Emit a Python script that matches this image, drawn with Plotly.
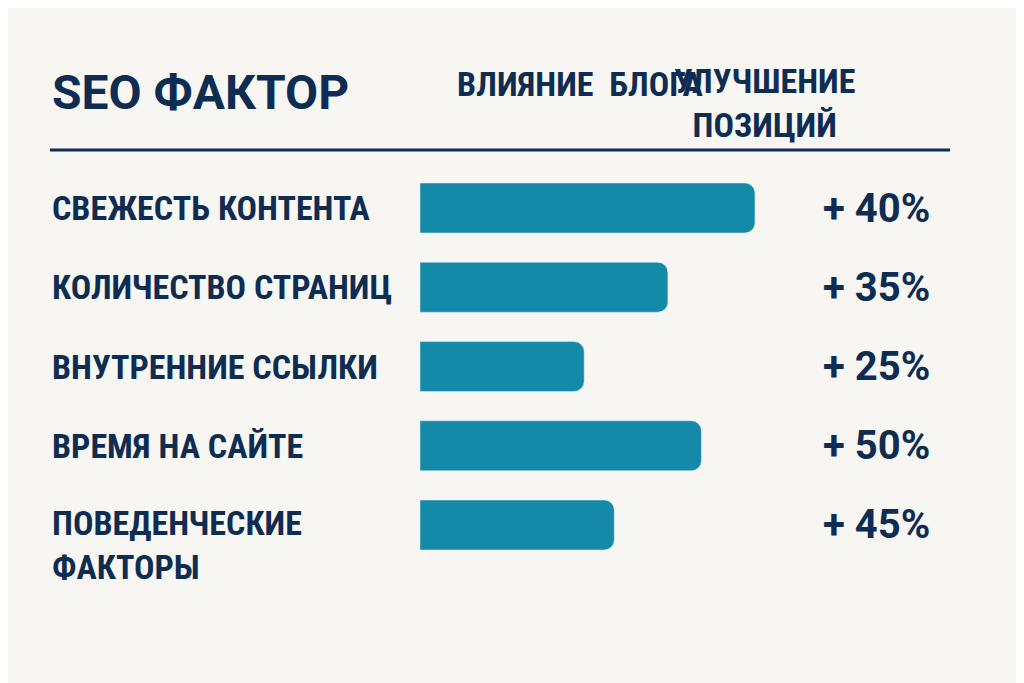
import plotly.graph_objects as go

factors = ["СВЕЖЕСТЬ КОНТЕНТА", "КОЛИЧЕСТВО СТРАНИЦ", "ВНУТРЕННИЕ ССЫЛКИ", "ВРЕМЯ НА САЙТЕ", "ПОВЕДЕНЧЕСКИЕ<br>ФАКТОРЫ"]
influence = [100, 74, 49, 84, 58]
improvement = ["+ 40%", "+ 35%", "+ 25%", "+ 50%", "+ 45%"]

navy = "#0f2d52"
bar = "#1589a8"
bg = "#f7f6f2"
font_l = "Liberation Sans Narrow, Roboto Condensed, Roboto, sans-serif"

W, H, OFF = 1024, 683, 8
px = lambda x: (x - OFF) / W
py = lambda y: 1 - (y - OFF) / H

idx = list(range(len(factors)))
fig = go.Figure(go.Bar(
    x=influence, y=idx, orientation="h", width=0.63,
    marker=dict(color=bar, cornerradius=10), hoverinfo="skip"))

anns = []
for i, f in enumerate(factors):
    yy = i + (0.25 if "<br>" in f else 0)
    anns.append(dict(x=px(50), xref="paper", y=yy, yref="y", text=f"<b>{f}</b>",
                     showarrow=False, xanchor="left", yanchor="middle", align="left",
                     font=dict(family=font_l, size=34, color=navy)))
    anns.append(dict(x=px(932), xref="paper", y=i, yref="y", text=f"<b>{improvement[i]}</b>",
                     showarrow=False, xanchor="right", yanchor="middle",
                     font=dict(family="Roboto, sans-serif", size=40, color=navy)))
anns += [
    dict(x=px(50), y=py(92), xref="paper", yref="paper", text="<b>SEO ФАКТОР</b>",
         showarrow=False, xanchor="left", yanchor="middle",
         font=dict(family="Roboto, sans-serif", size=48, color=navy)),
    dict(x=px(580), y=py(84), xref="paper", yref="paper", text="<b>ВЛИЯНИЕ  БЛОГА</b>",
         showarrow=False, yanchor="middle", font=dict(family=font_l, size=34, color=navy)),
    dict(x=px(857), y=py(103), xref="paper", yref="paper", text="<b>УЛУЧШЕНИЕ<br>ПОЗИЦИЙ</b>",
         showarrow=False, yanchor="middle", font=dict(family=font_l, size=34, color=navy)),
]

fig.update_layout(
    width=W, height=H, margin=dict(l=0, r=0, t=0, b=0),
    paper_bgcolor=bg, plot_bgcolor=bg, showlegend=False,
    xaxis=dict(range=[-123.0, 182.7], visible=False, fixedrange=True),
    yaxis=dict(range=[6.095, -2.524], visible=False, fixedrange=True),
    annotations=anns,
    shapes=[dict(type="line", xref="paper", yref="paper", x0=px(50), x1=px(950),
                 y0=py(150), y1=py(150), line=dict(color=navy, width=3))],
)
fig.write_html("out.html")
